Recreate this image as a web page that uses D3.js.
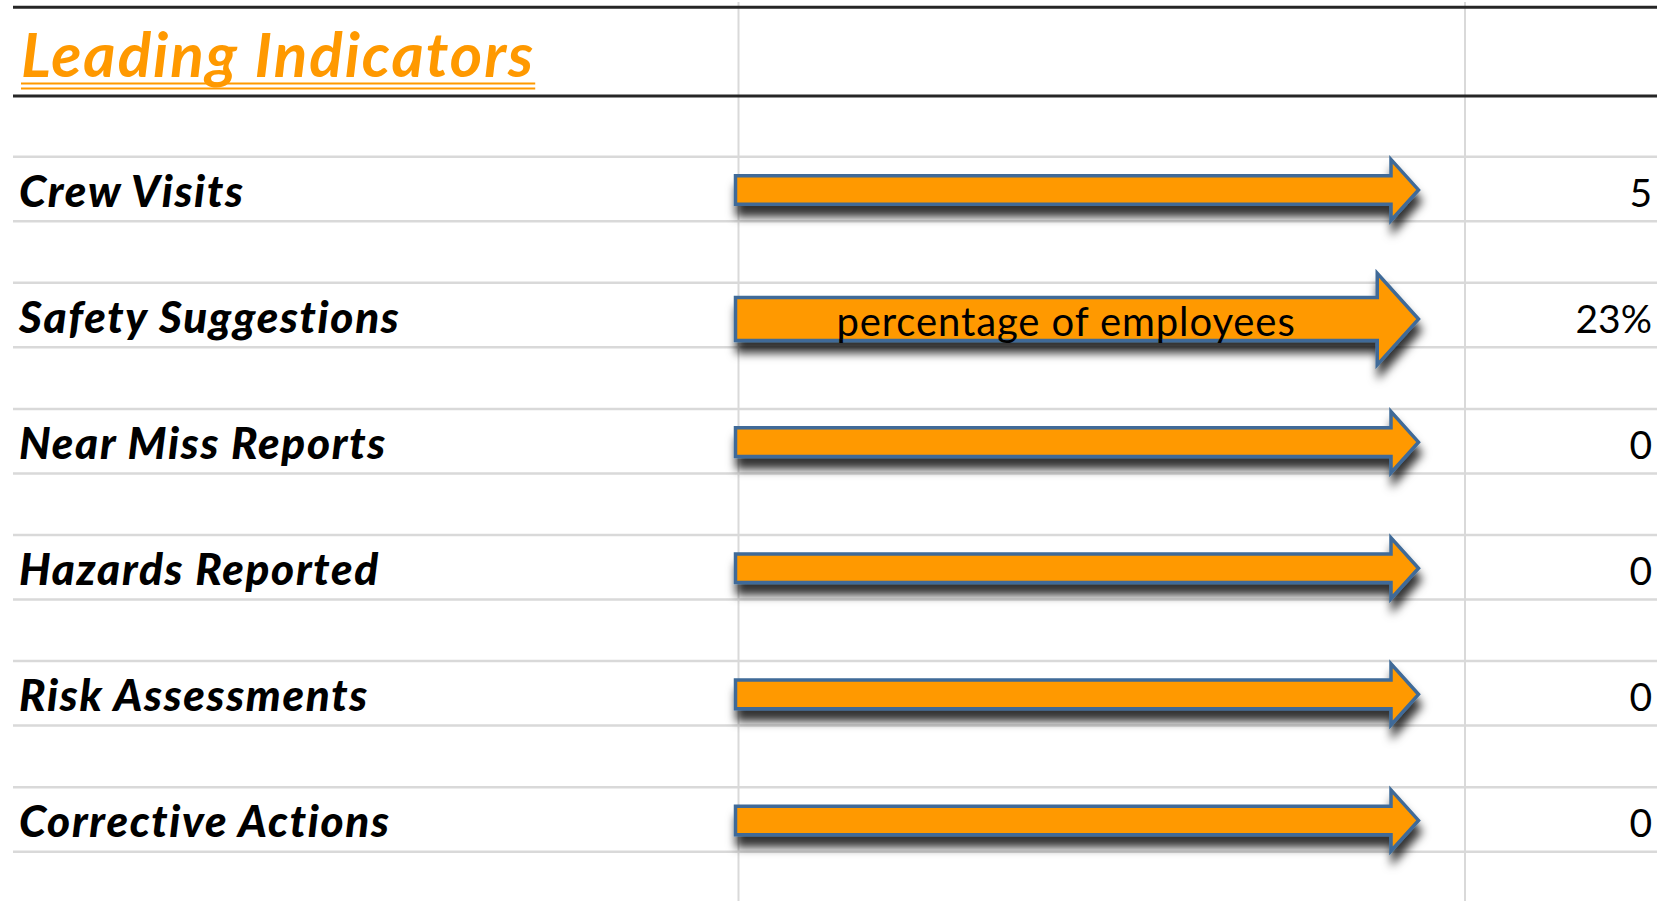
<!DOCTYPE html>
<html>
<head>
<meta charset="utf-8">
<script src="https://cdn.jsdelivr.net/npm/d3@7"></script>
<style>
  html, body { margin: 0; padding: 0; background: #fff; overflow: hidden; }
  svg { display: block; }
  .label { font-family: Lato, "Open Sans", sans-serif; font-weight: bold; font-style: italic; fill: #000; }
  .value { font-family: Lato, "Open Sans", sans-serif; fill: #000; }
  .note { font-family: Lato, "Open Sans", sans-serif; fill: #000; }
  .title { font-family: Lato, "Open Sans", sans-serif; font-weight: bold; font-style: italic; fill: #ff9900; }
</style>
</head>
<body>
<div id="sheet"></div>
<script>
// Indicator rows
const indicators = ['Crew Visits', 'Safety Suggestions', 'Near Miss Reports', 'Hazards Reported', 'Risk Assessments', 'Corrective Actions'];
const values = ['5', '23%', '0', '0', '0', '0'];
const trends = ['flat', 'flat', 'flat', 'flat', 'flat', 'flat'];
const notes = ['', 'percentage of employees', '', '', '', ''];
const columns = ['label', 'trend', 'value'];
const title = 'Leading Indicators';

const rows = indicators.map((name, i) => ({ name, value: values[i], trend: trends[i], note: notes[i] }));

const width = 1657;
const height = 901;
const rowH = 64.5; // height of a filled row, the blank row sits under it

const svg = d3.select('#sheet')
  .append('svg')
  .attr('width', width)
  .attr('height', height);

// drop shadow like the Office shape effect
const shadow = svg.append('defs').append('filter')
  .attr('id', 'shadow')
  .attr('x', '-10%').attr('y', '-60%')
  .attr('width', '120%').attr('height', '280%');
shadow.append('feDropShadow')
  .attr('dx', 2)
  .attr('dy', 11)
  .attr('stdDeviation', 5)
  .attr('flood-color', '#000')
  .attr('flood-opacity', 0.8);

// column and row scales
const x = d3.scaleBand()
  .domain(columns)
  .range([12, 12 + 3 * 726.5]);

const y = d3.scaleBand()
  .domain(indicators)
  .range([156.7, 156.7 + indicators.length * 126.1]);

// vertical gridlines
svg.selectAll('.vgrid')
  .data(columns.slice(1))
  .enter()
  .append('line')
  .attr('class', 'vgrid')
  .attr('x1', d => x(d))
  .attr('x2', d => x(d))
  .attr('y1', 2)
  .attr('y2', height)
  .attr('stroke', '#d9d9d9')
  .attr('stroke-width', 2);

// cell borders above and below each filled row
const borders = rows.flatMap(d => [y(d.name), y(d.name) + rowH]);
svg.selectAll('.hgrid')
  .data(borders)
  .enter()
  .append('line')
  .attr('class', 'hgrid')
  .attr('x1', 13)
  .attr('x2', width)
  .attr('y1', d => d)
  .attr('y2', d => d)
  .attr('stroke', '#d9d9d9')
  .attr('stroke-width', 2.5);

// heavy borders round the title row
svg.selectAll('.heavy')
  .data([7.3, 96])
  .enter()
  .append('line')
  .attr('class', 'heavy')
  .attr('x1', 13)
  .attr('x2', width)
  .attr('y1', d => d)
  .attr('y2', d => d)
  .attr('stroke', '#262626')
  .attr('stroke-width', 3);

// title with double underline
const titleText = svg.append('text')
  .attr('class', 'title')
  .attr('x', x('label') + 9)
  .attr('y', 77)
  .style('font-size', '62px')
  .style('letter-spacing', '2px')
  .text(title);
const titleW = titleText.node().getComputedTextLength();
svg.selectAll('.uline')
  .data([83.5, 88.5])
  .enter()
  .append('line')
  .attr('class', 'uline')
  .attr('x1', x('label') + 9)
  .attr('x2', x('label') + 9 + titleW)
  .attr('y1', d => d)
  .attr('y2', d => d)
  .attr('stroke', '#ff9900')
  .attr('stroke-width', 2);

// row labels
svg.selectAll('.label')
  .data(rows)
  .enter()
  .append('text')
  .attr('class', 'label')
  .attr('x', x('label') + 7)
  .attr('y', d => y(d.name) + 50)
  .style('font-size', '44px')
  .style('letter-spacing', '1.7px')
  .style('font-weight', 900)
  .text(d => d.name);

// trend arrows, a bigger one when it carries a note
function arrowPath(d) {
  const k = d.note ? 1.5 : 1;
  const cy = y(d.name) + rowH / 2 + (d.note ? 4 : 1);
  const x0 = x('trend') - 3;
  const x1 = x('value') - 46.5;
  const sh = 14.3 * k, hh = 30.5 * k, hl = 27.5 * k;
  const p = d3.path();
  if (d.trend === 'flat') {
    p.moveTo(x0, cy - sh);
    p.lineTo(x1 - hl, cy - sh);
    p.lineTo(x1 - hl, cy - hh);
    p.lineTo(x1, cy);
    p.lineTo(x1 - hl, cy + hh);
    p.lineTo(x1 - hl, cy + sh);
    p.lineTo(x0, cy + sh);
    p.closePath();
  }
  return p.toString();
}

svg.selectAll('.arrow')
  .data(rows)
  .enter()
  .append('path')
  .attr('class', 'arrow')
  .attr('d', arrowPath)
  .attr('fill', '#ff9900')
  .attr('stroke', '#3f6b98')
  .attr('stroke-width', 3.5)
  .attr('stroke-linejoin', 'miter')
  .attr('filter', 'url(#shadow)');

// note written on the arrow
svg.selectAll('.note')
  .data(rows.filter(d => d.note))
  .enter()
  .append('text')
  .attr('class', 'note')
  .attr('x', (x('trend') + x('value') - 51.5) / 2 - 10)
  .attr('y', d => y(d.name) + rowH / 2 + 21)
  .attr('text-anchor', 'middle')
  .style('font-size', '40px')
  .style('letter-spacing', '0.9px')
  .text(d => d.note);

// values, right aligned
svg.selectAll('.value')
  .data(rows)
  .enter()
  .append('text')
  .attr('class', 'value')
  .attr('x', width - 5)
  .attr('y', d => y(d.name) + 50)
  .attr('text-anchor', 'end')
  .style('font-size', '39px')
  .text(d => d.value);
</script>
</body>
</html>
